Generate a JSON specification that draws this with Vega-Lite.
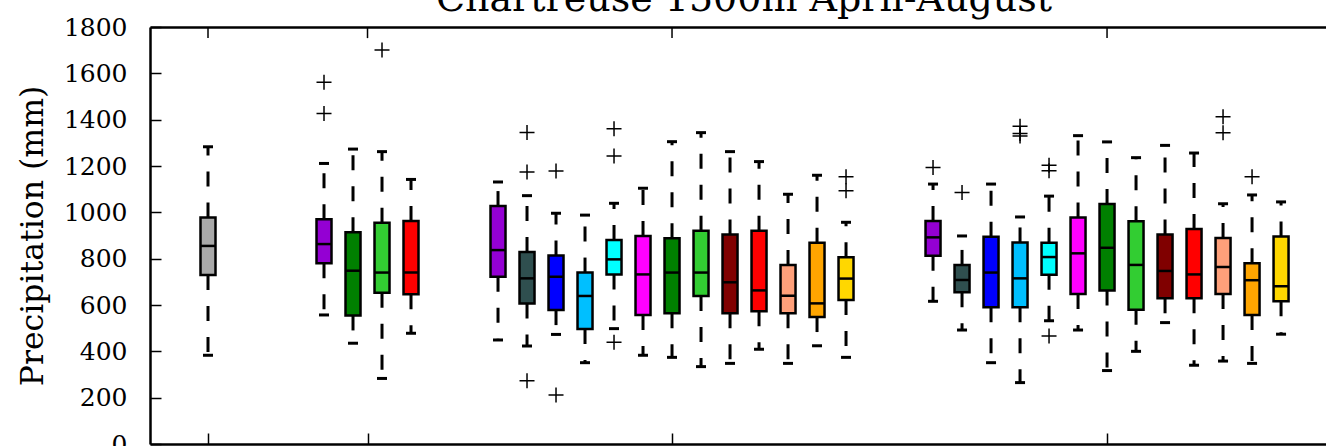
{
  "$schema": "https://vega.github.io/schema/vega-lite/v6.json",
  "width": 1176,
  "height": 417,
  "autosize": {"type": "none"},
  "padding": {"left": 150, "top": 27, "right": 0, "bottom": 2},
  "background": "white",
  "config": {"view": {"stroke": null}, "font": "DejaVu Serif"},
  "title": {"text": "Chartreuse 1500m April-August", "font": "DejaVu Serif", "fontSize": 38, "fontWeight": "normal", "color": "black", "anchor": "middle", "frame": "group", "baseline": "alphabetic", "offset": 1, "dy": 35, "dx": 6},
  "resolve": {"axis": {"x": "independent"}},
  "datasets": {
    "boxes": [
      {"pos": 0, "series": "obs", "lo": 383, "q1": 729, "med": 855, "q3": 978, "hi": 1283},
      {"pos": 4, "series": "s1", "lo": 557, "q1": 780, "med": 863, "q3": 970, "hi": 1211},
      {"pos": 5, "series": "s2", "lo": 435, "q1": 555, "med": 748, "q3": 914, "hi": 1273},
      {"pos": 6, "series": "s3", "lo": 283, "q1": 653, "med": 740, "q3": 955, "hi": 1262},
      {"pos": 7, "series": "s4", "lo": 478, "q1": 646, "med": 740, "q3": 963, "hi": 1142},
      {"pos": 10, "series": "s1", "lo": 449, "q1": 722, "med": 837, "q3": 1027, "hi": 1131},
      {"pos": 11, "series": "s5", "lo": 423, "q1": 606, "med": 715, "q3": 829, "hi": 1072},
      {"pos": 12, "series": "s6", "lo": 473, "q1": 578, "med": 722, "q3": 814, "hi": 996},
      {"pos": 13, "series": "s7", "lo": 351, "q1": 496, "med": 639, "q3": 740, "hi": 988},
      {"pos": 14, "series": "s8", "lo": 498, "q1": 732, "med": 797, "q3": 881, "hi": 1039},
      {"pos": 15, "series": "s9", "lo": 383, "q1": 557, "med": 732, "q3": 898, "hi": 1104},
      {"pos": 16, "series": "s2", "lo": 374, "q1": 564, "med": 740, "q3": 888, "hi": 1305},
      {"pos": 17, "series": "s3", "lo": 334, "q1": 639, "med": 740, "q3": 921, "hi": 1344},
      {"pos": 18, "series": "s10", "lo": 348, "q1": 564, "med": 698, "q3": 904, "hi": 1262},
      {"pos": 19, "series": "s4", "lo": 409, "q1": 573, "med": 663, "q3": 921, "hi": 1219},
      {"pos": 20, "series": "s11", "lo": 348, "q1": 564, "med": 640, "q3": 773, "hi": 1078},
      {"pos": 21, "series": "s12", "lo": 424, "q1": 548, "med": 607, "q3": 869, "hi": 1160},
      {"pos": 22, "series": "s13", "lo": 374, "q1": 622, "med": 714, "q3": 806, "hi": 957},
      {"pos": 25, "series": "s1", "lo": 616, "q1": 813, "med": 892, "q3": 963, "hi": 1122},
      {"pos": 26, "series": "s5", "lo": 492, "q1": 655, "med": 708, "q3": 773, "hi": 898},
      {"pos": 27, "series": "s6", "lo": 351, "q1": 590, "med": 740, "q3": 895, "hi": 1122},
      {"pos": 28, "series": "s7", "lo": 265, "q1": 590, "med": 715, "q3": 870, "hi": 980},
      {"pos": 29, "series": "s8", "lo": 532, "q1": 731, "med": 807, "q3": 869, "hi": 1070},
      {"pos": 30, "series": "s9", "lo": 492, "q1": 647, "med": 823, "q3": 978, "hi": 1331},
      {"pos": 31, "series": "s2", "lo": 317, "q1": 663, "med": 847, "q3": 1036, "hi": 1304},
      {"pos": 32, "series": "s3", "lo": 400, "q1": 580, "med": 773, "q3": 961, "hi": 1236},
      {"pos": 33, "series": "s10", "lo": 524, "q1": 629, "med": 747, "q3": 904, "hi": 1289},
      {"pos": 34, "series": "s4", "lo": 340, "q1": 629, "med": 732, "q3": 928, "hi": 1256},
      {"pos": 35, "series": "s11", "lo": 358, "q1": 647, "med": 764, "q3": 889, "hi": 1037},
      {"pos": 36, "series": "s12", "lo": 348, "q1": 557, "med": 707, "q3": 780, "hi": 1075},
      {"pos": 37, "series": "s13", "lo": 474, "q1": 616, "med": 681, "q3": 896, "hi": 1045}
    ],
    "outliers": [
      {"pos": 4, "value": 1561}, {"pos": 4, "value": 1427},
      {"pos": 6, "value": 1701},
      {"pos": 11, "value": 1345}, {"pos": 11, "value": 1174}, {"pos": 11, "value": 273},
      {"pos": 12, "value": 1178}, {"pos": 12, "value": 211},
      {"pos": 14, "value": 1361}, {"pos": 14, "value": 1243}, {"pos": 14, "value": 439},
      {"pos": 22, "value": 1154}, {"pos": 22, "value": 1093},
      {"pos": 25, "value": 1194},
      {"pos": 26, "value": 1086},
      {"pos": 28, "value": 1372}, {"pos": 28, "value": 1340}, {"pos": 28, "value": 1330},
      {"pos": 29, "value": 1203}, {"pos": 29, "value": 1180}, {"pos": 29, "value": 466},
      {"pos": 35, "value": 1413}, {"pos": 35, "value": 1344},
      {"pos": 36, "value": 1154}
    ],
    "groups": [{"center": 0}, {"center": 5.5}, {"center": 16}, {"center": 31}]
  },
  "layer": [
    {
      "data": {"name": "boxes"},
      "mark": {"type": "rule", "color": "black", "strokeWidth": 3, "strokeDash": [15, 16]},
      "encoding": {
        "x": {"field": "pos", "type": "quantitative", "scale": {"domain": [-2, 38.55], "nice": false, "zero": false, "padding": 0},
          "axis": {"orient": "top", "values": [0, 5.5, 16, 31], "labels": false, "title": null, "grid": false, "ticks": false, "domainColor": "black", "domainWidth": 2.5}},
        "y": {"field": "q3", "type": "quantitative", "scale": {"domain": [0, 1800], "nice": false, "zero": false, "padding": 0},
          "axis": {"values": [0, 200, 400, 600, 800, 1000, 1200, 1400, 1600, 1800], "format": "d", "grid": false, "tickSize": -11, "tickColor": "black", "tickWidth": 1.5, "domainColor": "black", "domainWidth": 2.5,
            "labelFont": "DejaVu Serif", "labelFontSize": 25, "labelColor": "black", "labelPadding": 34, "labelBaseline": "middle",
            "title": "Precipitation (mm)", "titleFont": "DejaVu Serif", "titleFontSize": 31.5, "titleFontWeight": "normal", "titleColor": "black", "titleAngle": -90, "titleBaseline": "alphabetic", "titleAlign": "center", "titleX": -108, "titleY": 208.5}},
        "y2": {"field": "hi"}
      }
    },
    {
      "data": {"name": "boxes"},
      "mark": {"type": "rule", "color": "black", "strokeWidth": 3, "strokeDash": [15, 16]},
      "encoding": {
        "x": {"field": "pos", "type": "quantitative",
          "axis": {"orient": "bottom", "values": [0, 5.5, 16, 31], "labels": false, "title": null, "grid": false, "tickSize": -11, "tickColor": "black", "tickWidth": 1.5, "domainColor": "black", "domainWidth": 2.5}},
        "y": {"field": "q1", "type": "quantitative"},
        "y2": {"field": "lo"}
      }
    },
    {
      "data": {"name": "groups"},
      "mark": {"type": "rule", "color": "black", "strokeWidth": 1.5},
      "encoding": {
        "x": {"field": "center", "type": "quantitative", "axis": null},
        "y": {"datum": 1800, "type": "quantitative"},
        "y2": {"datum": 1752}
      }
    },
    {
      "data": {"name": "boxes"},
      "mark": {"type": "tick", "orient": "horizontal", "color": "black", "size": 10, "thickness": 3, "opacity": 1},
      "encoding": {
        "x": {"field": "pos", "type": "quantitative", "axis": null},
        "y": {"field": "hi", "type": "quantitative"}
      }
    },
    {
      "data": {"name": "boxes"},
      "mark": {"type": "tick", "orient": "horizontal", "color": "black", "size": 10, "thickness": 3, "opacity": 1},
      "encoding": {
        "x": {"field": "pos", "type": "quantitative", "axis": null},
        "y": {"field": "lo", "type": "quantitative"}
      }
    },
    {
      "data": {"name": "boxes"},
      "mark": {"type": "bar", "size": 15, "stroke": "black", "strokeWidth": 2.5, "opacity": 1},
      "encoding": {
        "x": {"field": "pos", "type": "quantitative", "axis": null},
        "y": {"field": "q1", "type": "quantitative"},
        "y2": {"field": "q3"},
        "fill": {"field": "series", "type": "nominal", "legend": null,
          "scale": {"domain": ["obs", "s1", "s2", "s3", "s4", "s5", "s6", "s7", "s8", "s9", "s10", "s11", "s12", "s13"],
            "range": ["#a9a9a9", "#9400d3", "#008000", "#32cd32", "#ff0000", "#2f4f4f", "#0000ff", "#00bfff", "#00ffff", "#ff00ff", "#800000", "#ffa07a", "#ffa500", "#ffd700"]}}
      }
    },
    {
      "data": {"name": "boxes"},
      "mark": {"type": "tick", "orient": "horizontal", "color": "black", "size": 15, "thickness": 2.5, "opacity": 1},
      "encoding": {
        "x": {"field": "pos", "type": "quantitative", "axis": null},
        "y": {"field": "med", "type": "quantitative"}
      }
    },
    {
      "data": {"name": "outliers"},
      "mark": {"type": "point", "shape": "M-1,0L1,0M0,-1L0,1", "filled": false, "stroke": "black", "strokeWidth": 1.5, "size": 225, "opacity": 1},
      "encoding": {
        "x": {"field": "pos", "type": "quantitative", "axis": null},
        "y": {"field": "value", "type": "quantitative"}
      }
    }
  ]
}
